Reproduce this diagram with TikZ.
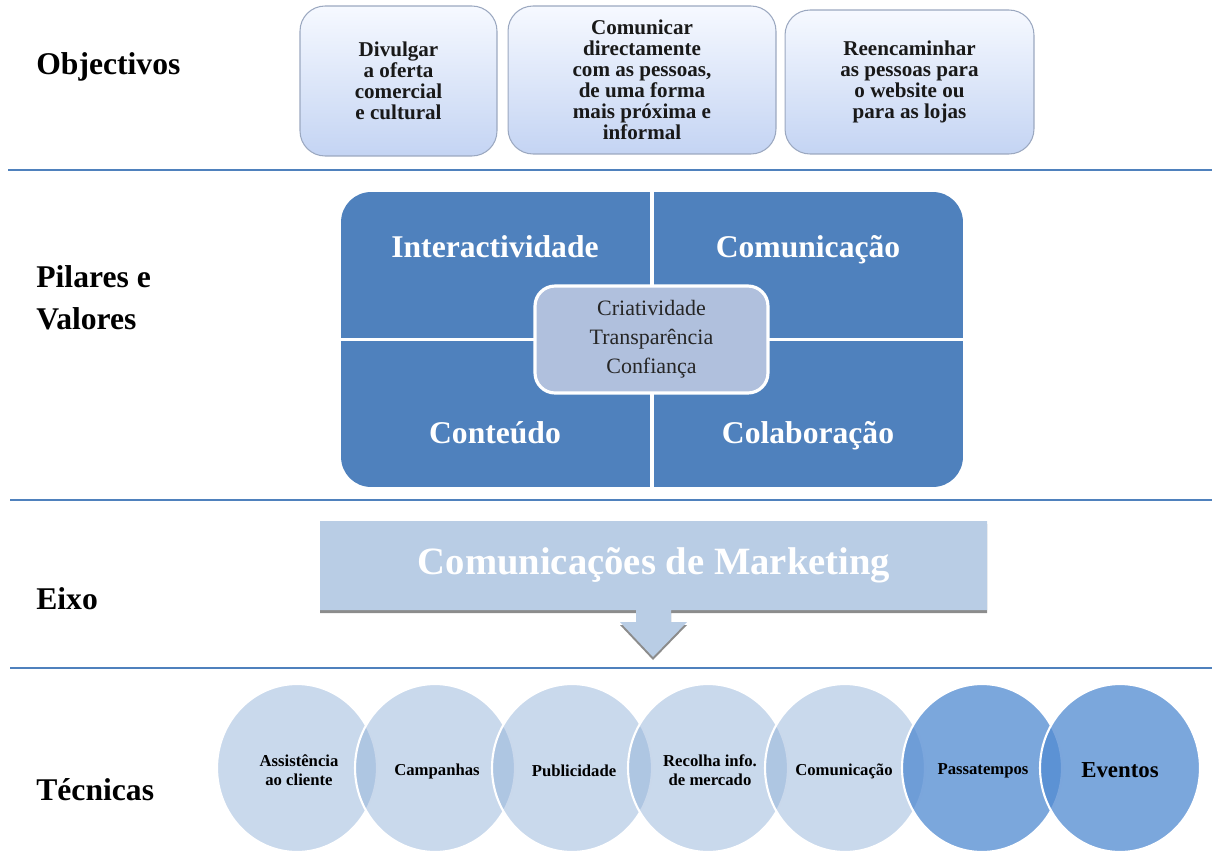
\documentclass[tikz,border=0pt]{standalone}
\usepackage{fontspec}
\setmainfont{Liberation Serif}
\usetikzlibrary{shapes.geometric}
\definecolor{rulecol}{RGB}{79,129,189}
\definecolor{pillarblue}{RGB}{79,129,189}
\definecolor{valuebox}{RGB}{176,192,221}
\definecolor{axisfill}{RGB}{185,205,229}
\definecolor{axisshadow}{RGB}{140,140,140}
\definecolor{goaltop}{RGB}{246,249,255}
\definecolor{goalbottom}{RGB}{196,212,243}
\definecolor{goalborder}{RGB}{155,168,192}
\definecolor{techlight}{RGB}{148,179,217}
\definecolor{techdark}{RGB}{82,139,209}
\begin{document}
\begin{tikzpicture}[x=0.02cm,y=-0.02cm,
  rowlabel/.style={anchor=west, align=left, inner sep=0pt,
    font=\fontsize{18}{24}\selectfont\bfseries},
  separator/.style={draw=rulecol, line width=1.1pt},
  goalbox/.style={draw=goalborder, line width=0.6pt, rounded corners=0.5cm,
    top color=goaltop, bottom color=goalbottom, align=center, inner sep=0pt,
    font=\fontsize{12}{12}\selectfont\bfseries, text=black!90},
  pillarlabel/.style={text=white, text height=12pt, text depth=0pt,
    font=\fontsize{18}{20}\selectfont\bfseries},
  valuesbox/.style={draw=white, line width=1.8pt, fill=valuebox, rounded corners=0.4cm,
    align=center, inner sep=0pt, minimum width=4.66cm, minimum height=2.14cm,
    font=\fontsize{12.5}{16.5}\selectfont, text=black!85},
  technique/.style={ellipse, draw=white, line width=1.2pt, inner sep=0pt,
    minimum width=3.2cm, minimum height=3.36cm},
  techA/.style={technique, fill=techlight, fill opacity=0.5},
  techB/.style={technique, fill=techdark, fill opacity=0.76},
  techtext/.style={align=center, inner sep=0pt, text=black,
    font=\fontsize{9.5}{10.5}\selectfont\bfseries}
]
\useasboundingbox (0,0) rectangle (1214,852);

% section separators
\draw[separator] (8,170) -- (1212,170);
\draw[separator] (10,500) -- (1212,500);
\draw[separator] (10,668) -- (1212,668);

% row titles
\node[rowlabel] (lobj) at (36,67) {Objectivos};
\node[rowlabel] (lpil) at (36,298) {Pilares e\\Valores};
\node[rowlabel] (leixo) at (36,599) {Eixo};
\node[rowlabel] (ltec) at (36,790) {Técnicas};

% objectives
\node[goalbox, minimum width=3.94cm, minimum height=3.0cm] (g1) at (398.5,81)
  {Divulgar\\a oferta\\comercial\\e cultural};
\node[goalbox, minimum width=5.36cm, minimum height=2.96cm] (g2) at (642,80)
  {Comunicar\\directamente\\com as pessoas,\\de uma forma\\mais próxima e\\informal};
\node[goalbox, minimum width=4.98cm, minimum height=2.88cm] (g3) at (909.5,82)
  {Reencaminhar\\as pessoas para\\o website ou\\para as lojas};

% pillars and values
\node[fill=pillarblue, rounded corners=0.6cm, minimum width=12.44cm,
  minimum height=5.9cm, inner sep=0pt] (pil) at (652,339.5) {};
\draw[white, line width=2.2pt] (pil.north) -- (pil.south);
\draw[white, line width=2.2pt] (pil.west) -- (pil.east);
\node[pillarlabel] (p1) at (495,247) {Interactividade};
\node[pillarlabel] (p2) at (808,247) {Comunicação};
\node[pillarlabel] (p3) at (495,433) {Conteúdo};
\node[pillarlabel] (p4) at (808,433) {Colaboração};
\node[valuesbox] (vals) at (651.5,339.5) {Criatividade\\Transparência\\Confiança};

% axis arrow
\fill[axisshadow, shift={(0,3)}] (320,521) -- (987,521) -- (987,610) -- (671,610)
  -- (671,622) -- (687,622) -- (653,657) -- (620,622) -- (636,622) -- (636,610)
  -- (320,610) -- cycle;
\fill[axisfill] (320,521) -- (987,521) -- (987,610) -- (671,610)
  -- (671,622) -- (687,622) -- (653,657) -- (620,622) -- (636,622) -- (636,610)
  -- (320,610) -- cycle;
\node[text=white, font=\fontsize{22}{24}\selectfont\bfseries] (axis) at (654,565)
  {Comunicações de Marketing};

% techniques: overlapping discs, then their labels
\node[techA] (t1) at (297,768) {};
\node[techA] (t2) at (435,768) {};
\node[techA] (t3) at (572,768) {};
\node[techA] (t4) at (708,768) {};
\node[techA] (t5) at (845,768) {};
\node[techB] (t6) at (982,768) {};
\node[techB] (t7) at (1120,768) {};
\node[techtext] (n1) at (299,770) {Assistência\\ao cliente};
\node[techtext] (n2) at (437,771) {Campanhas};
\node[techtext] (n3) at (574,771) {Publicidade};
\node[techtext] (n4) at (710,770) {Recolha info.\\de mercado};
\node[techtext] (n5) at (844,771) {Comunicação};
\node[techtext] (n6) at (983,771) {Passatempos};
\node[techtext, font=\fontsize{13}{14}\selectfont\bfseries] (n7) at (1120,770) {Eventos};
\end{tikzpicture}
\end{document}
